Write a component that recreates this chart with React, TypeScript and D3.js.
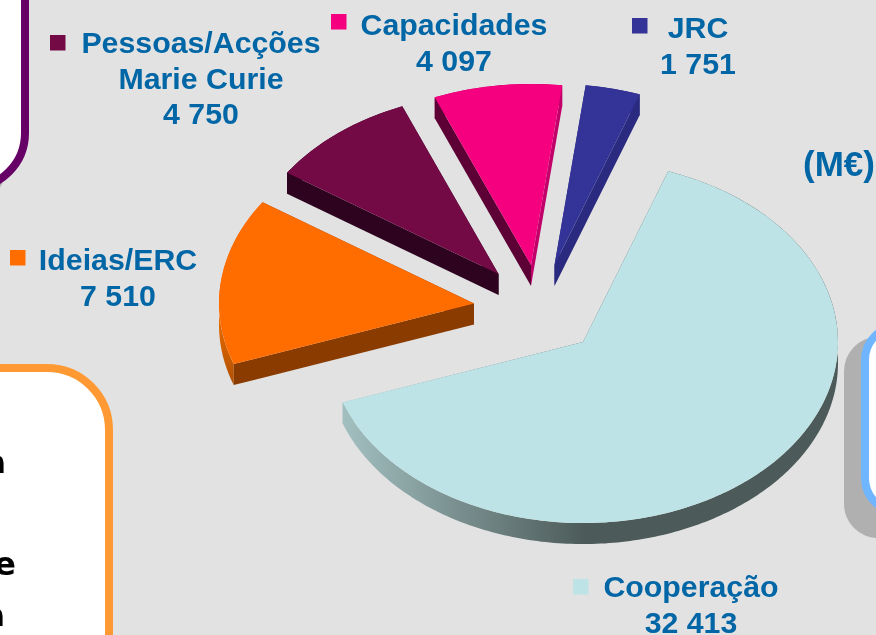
import React from "react";
import * as d3 from "d3";

// ---- data ----
const categories = ["Cooperação", "Ideias/ERC", "Pessoas/Acções Marie Curie", "Capacidades", "JRC"];
const values = [32413, 7510, 4750, 4097, 1751];
const unitLabel = "(M€)";

// ---- style / layout ----
const W = 876, H = 635;
const topColors = ["#bde3e6", "#ff6c00", "#730a46", "#f5007f", "#343397"];
const startFaceColors = ["url(#rimMain)", "#8a3b00", "#2e0320", "#5c0035", "#2a2a80"];
const endFaceColors = ["url(#rimMain)", "#8a3b00", "#2e0320", "#c2006a", "#2a2a80"];
const rimFills = ["url(#rimMain)", "url(#rimOrange)", "#2e0320", "#c2006a", "#2a2a80"];
const apexX = [583, 474, 498.5, 531, 554.5];
const apexY = [342, 303.5, 274, 265, 265];
const labelLines = [["Cooperação"], ["Ideias/ERC"], ["Pessoas/Acções", "Marie Curie"], ["Capacidades"], ["JRC"]];
const labelCx = [691, 118, 201, 454, 698];
const labelBase = [597, 270, 53, 35, 38];
const lineGap = 35.5;
const swatchX = [573, 10, 50, 331, 632];
const swatchY = [579, 250, 35, 14, 18];
const TEXT = "#0066a6";
const radius = 255;
const squash = 0.71;
const depth = 21;
const startDeg = 19.5;

const fmt = d3.formatLocale({ decimal: ",", thousands: " ", grouping: [3], currency: ["", "€"] }).format(",d");
const pieGen = d3.pie<number>().sort(null).startAngle((startDeg * Math.PI) / 180).endAngle(((startDeg + 360) * Math.PI) / 180);
const arcGen = d3.arc<d3.PieArcDatum<number>>().innerRadius(0).outerRadius(radius);
const lineGen = d3.line<[number, number]>().curve(d3.curveLinear);

function project(a: number, r: number, i: number, dy = 0): [number, number] {
  return [apexX[i] + r * Math.sin(a), apexY[i] - r * Math.cos(a) * squash + dy];
}
function face(a: number, i: number) {
  const pts: [number, number][] = [project(a, 0, i), project(a, radius, i), project(a, radius, i, depth), project(a, 0, i, depth)];
  return lineGen(pts) + "Z";
}
function rim(a0: number, a1: number, i: number) {
  const n = Math.max(8, Math.ceil((a1 - a0) * 60));
  const angles = d3.range(n + 1).map((k) => a0 + ((a1 - a0) * k) / n);
  const upper = angles.map((a) => project(a, radius, i));
  const lower = angles.slice().reverse().map((a) => project(a, radius, i, depth));
  return lineGen([...upper, ...lower]) + "Z";
}

export default function App() {
  const arcs = pieGen(values);
  return (
    <svg width={W} height={H} viewBox={`0 0 ${W} ${H}`} style={{ position: "absolute", left: 0, top: 0, display: "block" }}>
      <defs>
        <linearGradient id="rimMain" gradientUnits="userSpaceOnUse" x1={341} x2={585} y1={0} y2={0}>
          <stop offset="0" stopColor="#a3c0c1" />
          <stop offset="1" stopColor="#4c5b59" />
        </linearGradient>
        <linearGradient id="rimOrange" gradientUnits="userSpaceOnUse" x1={0} x2={0} y1={320} y2={384}>
          <stop offset="0" stopColor="#e86a00" />
          <stop offset="1" stopColor="#b05000" />
        </linearGradient>
        <filter id="soft" x="-5%" y="-5%" width="110%" height="110%">
          <feGaussianBlur stdDeviation="0.45" />
        </filter>
      </defs>
      <rect width={W} height={H} fill="#e2e2e2" />

      {/* surrounding callout boxes */}
      <rect x={-117} y={-76} width={125} height={290} rx={55} fill="#b0b0b0" />
      <rect x={-100} y={-100} width={125} height={288} rx={55} fill="#fff" stroke="#660066" strokeWidth={8} />
      <rect x={-100} y={368} width={209} height={340} rx={62} fill="#fff" stroke="#ff9933" strokeWidth={8} />
      <rect x={844} y={337} width={120} height={201} rx={34} fill="#b0b0b0" />
      <rect x={865} y={326} width={120} height={186} rx={34} fill="#fff" stroke="#70b5ff" strokeWidth={8} />
      <g fontFamily="DejaVu Sans" fontWeight={700} fontSize={32} fill="#000" textAnchor="end" filter="url(#soft)">
        <text x={6} y={473}>a</text>
        <text x={16} y={575}>e</text>
        <text x={5} y={626}>a</text>
      </g>

      {/* exploded 3D pie */}
      {arcs.map((d, i) => (
        <g key={categories[i]}>
          <path d={rim(d.startAngle, d.endAngle, i)} fill={rimFills[i]} />
          <path d={face(d.endAngle, i)} fill={endFaceColors[i]} />
          <path d={face(d.startAngle, i)} fill={startFaceColors[i]} />
          <path
            transform={`translate(${apexX[i]},${apexY[i]}) scale(1,${squash})`}
            d={arcGen(d) ?? ""}
            fill={topColors[i]}
          />
        </g>
      ))}

      {/* labels */}
      <g fontFamily="Liberation Sans" fontWeight={700} fontSize={30.3} fill={TEXT} textAnchor="middle" filter="url(#soft)">
        {categories.map((c, i) => {
          const lines = [...labelLines[i], fmt(values[i])];
          return (
            <g key={c}>
              {lines.map((t, j) => (
                <text key={j} x={labelCx[i]} y={labelBase[i] + j * lineGap}>{t}</text>
              ))}
            </g>
          );
        })}
        <text x={803} y={176} textAnchor="start" fontSize={35}>{unitLabel}</text>
      </g>
      {categories.map((c, i) => (
        <rect key={c} x={swatchX[i]} y={swatchY[i]} width={15.5} height={15.5} fill={topColors[i]} />
      ))}
    </svg>
  );
}
